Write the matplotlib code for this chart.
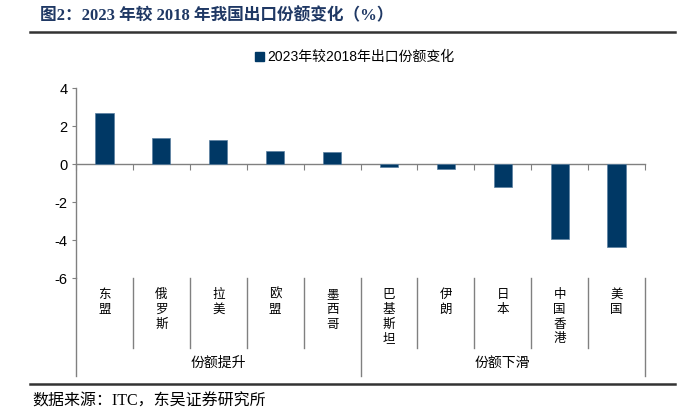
import matplotlib
matplotlib.use("Agg")
import matplotlib.pyplot as plt
from matplotlib.lines import Line2D
from matplotlib.patches import Patch
import matplotlib.transforms as mtransforms

plt.rcParams['font.family'] = ['Liberation Sans', 'Noto Sans CJK SC', 'DejaVu Sans']

# ---- data ----
categories = ['东盟', '俄罗斯', '拉美', '欧盟', '墨西哥', '巴基斯坦', '伊朗', '日本', '中国香港', '美国']
values = [2.69, 1.36, 1.27, 0.68, 0.64, -0.16, -0.25, -1.22, -3.95, -4.39]
groups = ['份额提升', '份额下滑']
group_sizes = [5, 5]
series_name = '2023年较2018年出口份额变化'
yticks = [-6, -4, -2, 0, 2, 4]
title = '图2：2023 年较 2018 年我国出口份额变化（%）'
source = '数据来源：ITC，东吴证券研究所'

W, H = 684, 411
fig = plt.figure(figsize=(W / 100, H / 100), dpi=100)

def fx(px):
    return px / W

def fy(py):
    return 1 - py / H

ax_left, ax_right, ax_top, ax_bot = 76, 645, 88, 278
ax = fig.add_axes([fx(ax_left), fy(ax_bot), fx(ax_right - ax_left), (ax_bot - ax_top) / H])

bar_color = '#003865'
gray = '#808080'
n = len(categories)
x = list(range(n))
ax.bar(x, values, width=0.32, color=bar_color, edgecolor='#5a7fa0', linewidth=0.5, zorder=3)

ax.set_xlim(-0.5, n - 0.5)
ax.set_ylim(min(yticks), max(yticks))
ax.set_yticks(yticks)
ax.set_yticklabels([str(v) for v in yticks], fontsize=10.5)
ax.tick_params(axis='y', direction='out', length=3, color=gray, pad=3)

for s in ['top', 'right']:
    ax.spines[s].set_visible(False)
ax.spines['left'].set_color(gray)
ax.spines['left'].set_linewidth(1.0)
ax.spines['bottom'].set_position(('data', 0))
ax.spines['bottom'].set_color(gray)
ax.spines['bottom'].set_linewidth(1.0)
boundaries = [i - 0.5 for i in range(n + 1)]
ax.set_xticks(boundaries)
ax.set_xticklabels([])
ax.tick_params(axis='x', direction='out', length=4, color=gray)

# category table below axes
trans = mtransforms.blended_transform_factory(ax.transData, ax.transAxes)
axh = ax_bot - ax_top

def afy(py):
    return -(py - ax_bot) / axh

sep_end = afy(348)
grp_end = afy(376)
group_edges = [-0.5]
for g in group_sizes:
    group_edges.append(group_edges[-1] + g)
for b in boundaries:
    end = grp_end if b in group_edges else sep_end
    ax.add_line(Line2D([b, b], [0, end], transform=trans, color=gray, lw=1.0, clip_on=False))

for i, c in enumerate(categories):
    ax.text(i, afy(288), '\n'.join(c), transform=trans, ha='center', va='top',
            fontsize=9, linespacing=1.18, family=['Noto Sans CJK SC'])

for gi, g in enumerate(groups):
    cx = (group_edges[gi] + group_edges[gi + 1]) / 2
    ax.text(cx, afy(363), g, transform=trans, ha='center', va='center',
            fontsize=10, family=['Noto Sans CJK SC'])

# legend
handles = [Patch(facecolor=bar_color, edgecolor=bar_color)]
fig.legend(handles, [series_name], loc='center', bbox_to_anchor=(fx(355), fy(57)),
           frameon=False, handlelength=0.6, handleheight=0.6,
           handletextpad=0.3, prop={'family': ['Liberation Sans', 'Noto Sans CJK SC'], 'size': 10})

# title and rules
fig.text(fx(40), fy(16), title, ha='left', va='center', fontsize=12, fontweight='bold',
         color='#1f3864', family=['Liberation Serif', 'Noto Sans CJK SC'])
fig.add_artist(Line2D([fx(30), fx(675)], [fy(32), fy(32)], color='#333333', lw=1.8))
fig.add_artist(Line2D([fx(30), fx(675)], [fy(384), fy(384)], color='#333333', lw=1.8))
fig.text(fx(32), fy(402), source, ha='left', va='center', fontsize=11.5,
         family=['Liberation Serif', 'Noto Sans CJK SC'])

fig.savefig('out.png', dpi=100)
